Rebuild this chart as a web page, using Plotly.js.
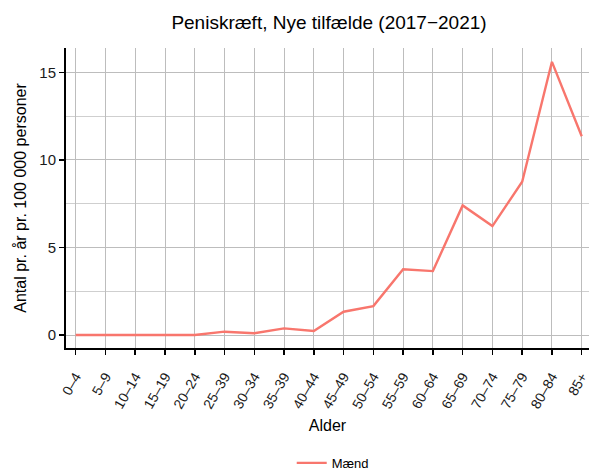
<!DOCTYPE html>
<html>
<head>
<meta charset="utf-8">
<script src="https://cdn.plot.ly/plotly-3.0.1.min.js"></script>
<style>html,body{margin:0;padding:0;background:#fff;}#chart{width:589px;height:470px;}</style>
</head>
<body>
<div id="chart"></div>
<script>
const ageGroups = ["0–4","5–9","10–14","15–19","20–24","25–39","30–34","35–39","40–44","45–49","50–54","55–59","60–64","65–69","70–74","75–79","80–84","85+"];
const maendValues = [0, 0, 0, 0, 0, 0.19, 0.10, 0.38, 0.23, 1.33, 1.65, 3.75, 3.65, 7.40, 6.22, 8.75, 15.6, 11.35];
const seriesName = "Mænd";
const yTickVals = [0, 5, 10, 15];
const chartTitle = "Peniskræft, Nye tilfælde (2017−2021)";
const xTitle = "Alder";
const yTitle = "Antal pr. år pr. 100 000 personer";

const trace = {
  x: ageGroups.map((_, i) => i),
  y: maendValues,
  type: "scatter",
  mode: "lines",
  name: seriesName,
  line: {color: "#F8766D", width: 2.4},
  showlegend: true
};

const layout = {
  width: 589, height: 470,
  margin: {l: 66, r: 0, t: 48, b: 122, autoexpand: false},
  paper_bgcolor: "#ffffff",
  plot_bgcolor: "#ffffff",
  font: {family: "Liberation Sans, Arial, sans-serif", color: "#1a1a1a"},
  title: {text: chartTitle, x: 0.5586, xanchor: "center", xref: "container", y: 0.953, yanchor: "middle", font: {size: 19, color: "#000"}},
  xaxis: {
    range: [-0.326, 17.245],
    tickmode: "array",
    tickvals: ageGroups.map((_, i) => i),
    ticktext: ageGroups,
    tickangle: -60,
    ticklabeloverflow: "allow",
    ticklabelstandoff: 8,
    ticks: "outside", ticklen: 5, tickwidth: 1.5, tickcolor: "#000",
    showline: true, linecolor: "#000", linewidth: 2,
    showgrid: true, gridcolor: "#bdbdbd", gridwidth: 1,
    zeroline: false,
    tickfont: {size: 14, color: "#1a1a1a"},
    title: {text: xTitle, font: {size: 16, color: "#000"}, standoff: 9},
    automargin: false
  },
  yaxis: {
    range: [-0.742, 16.39],
    tickmode: "array",
    tickvals: yTickVals,
    ticks: "outside", ticklen: 5, tickwidth: 1.5, tickcolor: "#000",
    showline: true, linecolor: "#000", linewidth: 2,
    showgrid: true, gridcolor: "#bdbdbd", gridwidth: 1,
    minor: {dtick: 2.5, tick0: 0, showgrid: true, gridcolor: "#cfcfcf", gridwidth: 1, ticks: ""},
    zeroline: false,
    tickfont: {size: 15, color: "#1a1a1a"},
    title: {text: yTitle, font: {size: 16, color: "#000"}, standoff: 9},
    automargin: false
  },
  legend: {
    orientation: "h",
    x: 0.51, xanchor: "center",
    y: -0.383, yanchor: "middle",
    font: {size: 13, color: "#000"},
    bgcolor: "rgba(0,0,0,0)"
  }
};

Plotly.newPlot("chart", [trace], layout, {displayModeBar: false, staticPlot: true});
</script>
</body>
</html>
